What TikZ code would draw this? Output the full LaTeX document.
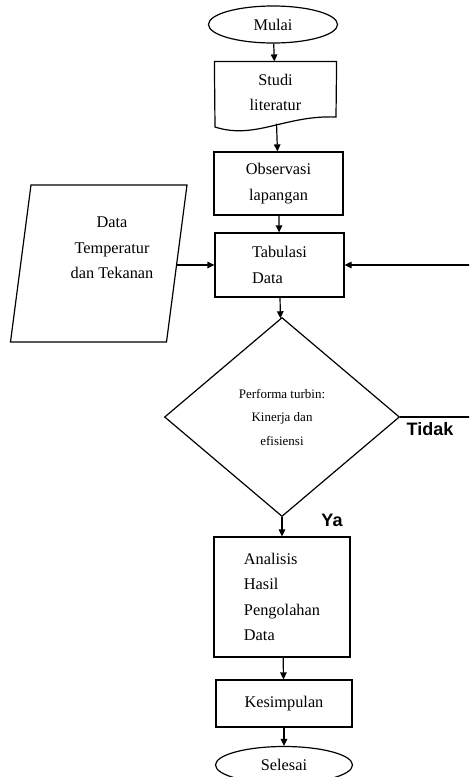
\documentclass[tikz,border=0pt]{standalone}
\usepackage{fontspec}
\setmainfont{Liberation Serif}
\newfontfamily\tagfont{Liberation Sans}
\usetikzlibrary{shapes.geometric,arrows.meta}

\begin{document}
\begin{tikzpicture}[x=1pt,y=-1pt,line width=1.2pt,>={Triangle[length=7pt,width=6.5pt]},
		font=\fontsize{16.3}{25.5}\selectfont,
		terminal/.style={ellipse,draw,minimum width=129pt,minimum height=37pt,inner sep=0pt},
		proses/.style={rectangle,draw,align=center},
		keputusan/.style={diamond,draw,align=center,inner sep=0pt,font=\fontsize{13}{23.5}\selectfont},
		keterangan/.style={font={\tagfont\bfseries\fontsize{18}{20}\selectfont}}]
			\useasboundingbox (0,0) rectangle (469,777);
			\clip (0,0) rectangle (469,777);
			\draw (273,24.5) node [terminal] (mulai) {Mulai};
			\draw (275.5,92.5) node [minimum width=121pt,minimum height=61pt,align=center] (studi) {Studi\\literatur};
			\draw (studi.north west) -- (studi.north east) -- (336,117) .. controls (285,115) and (255,140) .. (215,127) -- cycle;
			\draw (278.5,183.5) node [proses,minimum width=129pt,minimum height=63pt] (obs) {Observasi\\lapangan};
			\draw (279.5,265) node [proses,minimum width=129pt,minimum height=64pt,align=left] (tab) {Tabulasi\\Data};
			\draw (31,185) -- (187,185) -- (166.5,342) -- (10.5,342) -- cycle;
			\draw (112,248) node [align=center] (data) {Data\\Temperatur\\dan Tekanan};
			\coordinate (datR) at (176.4,265);
			\draw (282,417) node [keputusan,minimum width=235pt,minimum height=199pt] (dia) {Performa turbin:\\Kinerja dan\\efisiensi};
			\draw (282,597) node [proses,minimum width=136pt,minimum height=120pt,align=left] (ana) {Analisis\\Hasil\\Pengolahan\\Data};
			\draw (284,703.5) node [proses,minimum width=136pt,minimum height=47pt] (kes) {Kesimpulan};
			\draw (284,765) node [terminal,minimum width=137pt] (sel) {Selesai};
			\draw (430,429) node [keterangan] (tidak) {Tidak};
			\draw (332,520) node [keterangan] (ya) {Ya};
			\path[->]
				(mulai) edge (studi)
				(studi) edge (obs)
				(obs) edge (tab)
				(tab) edge (dia)
				(dia) edge (ana)
				(ana) edge (kes)
				(kes) edge (sel)
				(datR) edge (tab);
			\draw[->] (dia.east) -- ++(90,0) |- (tab.east);
		\end{tikzpicture}
\end{document}
